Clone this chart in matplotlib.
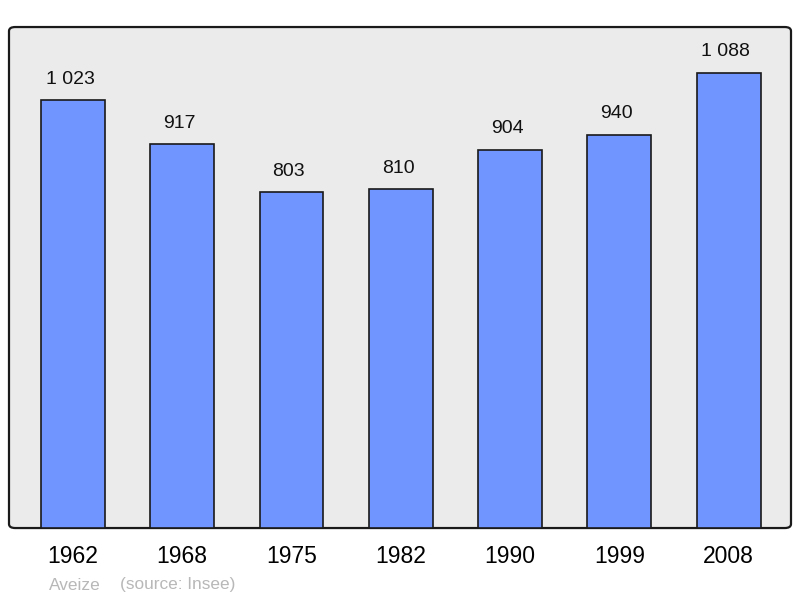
import matplotlib
matplotlib.use("Agg")
import matplotlib.pyplot as plt
from matplotlib.patches import FancyBboxPatch

years = ["1962", "1968", "1975", "1982", "1990", "1999", "2008"]
population = [1023, 917, 803, 810, 904, 940, 1088]
value_labels = ["1 023", "917", "803", "810", "904", "940", "1 088"]

plt.rcParams["font.family"] = ["Liberation Sans", "DejaVu Sans"]

fig = plt.figure(figsize=(8, 5.98), dpi=100)
ax = fig.add_axes([0.01125, 0.117, 0.9775, 0.8378])
ax.set_xlim(-0.585, 6.57)
ax.set_ylim(0, 1197)

# rounded frame behind everything
ax.patch.set_visible(False)
for s in ax.spines.values():
    s.set_visible(False)
frame = FancyBboxPatch((0, 0), 1, 1, boxstyle="round,pad=0,rounding_size=0.008",
                       transform=ax.transAxes, facecolor="#ebebeb",
                       edgecolor="#1a1a1a", linewidth=1.6, zorder=0, clip_on=False)
ax.add_patch(frame)

xs = range(len(years))
ax.bar(xs, population, width=0.585, color="#7095ff", edgecolor="#1a1a1a",
       linewidth=1.2, zorder=2)

for x, v, lab in zip(xs, population, value_labels):
    ax.annotate(lab, (x, v), xytext=(-2, 15), textcoords="offset points",
                ha="center", va="center", fontsize=14, color="#111111")

ax.set_xticks(list(xs))
ax.set_xticklabels(years, fontsize=16.5)
ax.tick_params(axis="x", length=0, pad=12.5)
ax.set_yticks([])

fig.text(49 / 800, 1 - 585 / 598, "Aveize", fontsize=12.4, color="#b8b8b8",
         ha="left", va="center")
fig.text(120 / 800, 1 - 585 / 598, "(source: Insee)", fontsize=12.4,
         color="#b8b8b8", ha="left", va="center")

fig.savefig("out.png", dpi=100)
